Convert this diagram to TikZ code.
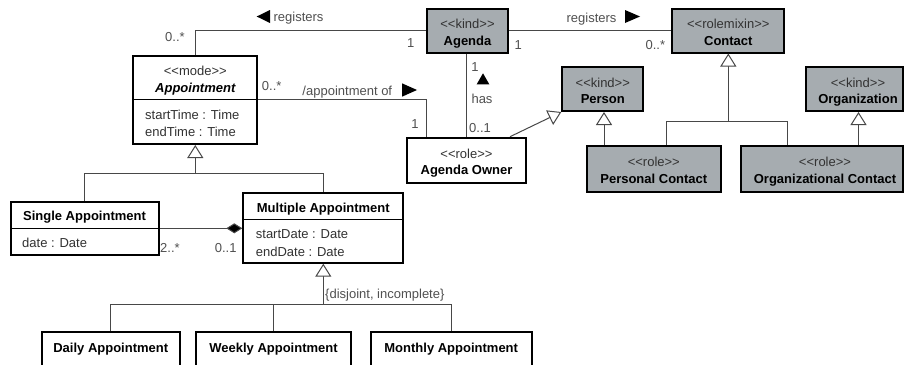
\documentclass[tikz,border=0pt]{standalone}
\usepackage{fontspec}
\setmainfont{Liberation Sans}
\usetikzlibrary{arrows.meta}
\definecolor{boxgray}{RGB}{166,172,176}
\definecolor{connc}{RGB}{72,72,72}
\definecolor{txtc}{RGB}{50,50,50}
\definecolor{lblc}{RGB}{80,80,80}
\newcommand\stL{<\kern0pt<}
\newcommand\stR{>\kern0pt>}
\begin{document}
\begin{tikzpicture}[x=1pt,y=-1pt,
  box/.style={draw=black, line width=2pt, inner sep=0pt, rectangle},
  gbox/.style={box, fill=boxgray},
  wbox/.style={box, fill=white},
  txt/.style={inner sep=0pt, text height=10pt, text depth=1pt, font=\fontsize{13}{15}\selectfont},
  ster/.style={txt, text=txtc},
  nm/.style={txt, font=\fontsize{13}{15}\selectfont\bfseries, text=black},
  attr/.style={txt, text=txtc, anchor=west},
  lbl/.style={txt, text=lblc},
  conn/.style={draw=connc, line width=1pt},
  gen/.style={conn, -{Triangle[length=13pt, width=16pt, fill=white]}},
  comp/.style={conn, -{Diamond[length=16pt, width=10pt, fill=black]}},
  divl/.style={draw=black, line width=1pt},
  dirtri/.style={fill=black}
]
\useasboundingbox (0,0) rectangle (904,364);
\fill[white] (0,0) rectangle (904,364);
\clip (0,0) rectangle (904,364);

% ---- boxes ----
\node[wbox, minimum width=124pt, minimum height=88pt] (app) at (195.3,100) {};
\node[gbox, minimum width=81.6pt, minimum height=43.5pt] (agenda) at (467.5,30.75) {};
\node[gbox, minimum width=112pt, minimum height=43.5pt] (contact) at (728.3,30.75) {};
\node[wbox, minimum width=118.4pt, minimum height=45pt] (owner) at (466.5,160.2) {};
\node[gbox, minimum width=81pt, minimum height=44pt] (person) at (602.8,89) {};
\node[gbox, minimum width=97.3pt, minimum height=44pt] (organization) at (854.35,89) {};
\node[gbox, minimum width=134.3pt, minimum height=45.8pt] (pcontact) at (653.85,168.6) {};
\node[gbox, minimum width=162.3pt, minimum height=45.8pt] (ocontact) at (821.85,168.6) {};
\node[wbox, minimum width=147.5pt, minimum height=52.5pt] (single) at (84.75,228.25) {};
\node[wbox, minimum width=160pt, minimum height=69.4pt] (multiple) at (323.3,228) {};
\node[wbox, minimum width=138.5pt, minimum height=50pt] (daily) at (110.75,357.3) {};
\node[wbox, minimum width=155pt, minimum height=50pt] (weekly) at (273.5,357.3) {};
\node[wbox, minimum width=161pt, minimum height=50pt] (monthly) at (451.2,357.3) {};

% ---- compartment dividers ----
\draw[divl] (app.west |- 0,99) -- (app.east |- 0,99);
\draw[divl] (single.west |- 0,228.3) -- (single.east |- 0,228.3);
\draw[divl] (multiple.west |- 0,219.5) -- (multiple.east |- 0,219.5);

% ---- texts in boxes ----
\node[ster] (t1) at (195.3,70.7) {\stL mode\stR};
\node[nm, font=\fontsize{13}{15}\selectfont\bfseries\itshape] (t2) at (195.3,88.3) {Appointment};
\node[attr] (t3) at (145,115) {startTime : Time};
\node[attr] (t4) at (145,131.7) {endTime : Time};

\node[ster] (t5) at (467.5,24) {\stL kind\stR};
\node[nm] (t6) at (467.5,40.7) {Agenda};
\node[ster] (t7) at (728.3,24) {\stL rolemixin\stR};
\node[nm] (t8) at (728.3,40.7) {Contact};
\node[ster] (t9) at (466.5,154) {\stL role\stR};
\node[nm] (t10) at (466.5,170) {Agenda Owner};
\node[ster] (t11) at (602.8,82.7) {\stL kind\stR};
\node[nm] (t12) at (602.8,99.3) {Person};
\node[ster] (t13) at (858,82.7) {\stL kind\stR};
\node[nm] (t14) at (858,99.3) {Organization};
\node[ster] (t15) at (653.8,162.3) {\stL role\stR};
\node[nm] (t16) at (653.8,179) {Personal Contact};
\node[ster] (t17) at (825,162.3) {\stL role\stR};
\node[nm] (t18) at (825,179) {Organizational Contact};

\node[nm] (t19) at (84.5,216) {Single Appointment};
\node[attr] (t20) at (22,243) {date : Date};
\node[nm] (t21) at (323.3,208.3) {Multiple Appointment};
\node[attr] (t22) at (255.7,234) {startDate : Date};
\node[attr] (t23) at (255.7,251.7) {endDate : Date};
\node[nm] (t24) at (110.75,347.5) {Daily Appointment};
\node[nm] (t25) at (273.5,347.5) {Weekly Appointment};
\node[nm] (t26) at (451.2,347.5) {Monthly Appointment};

% ---- associations ----
\draw[conn] (app.north) |- (agenda.west |- 0,30);
\draw[conn] (agenda.east |- 0,30) -- (contact.west |- 0,30);
\draw[conn] (app.east |- 0,99) -| (owner.north -| 426.7,0);
\draw[conn] (agenda.south -| 466,0) -- (owner.north -| 466,0);
\draw[comp] (single.east |- 0,228.3) -- (multiple.west |- 0,228.3);

% ---- generalizations ----
\coordinate (j1) at (195.3,173);
\draw[conn] (single.north) |- (multiple.north |- j1) -- (multiple.north);
\draw[gen] (j1) -- (app.south);

\coordinate (j2) at (323.3,304);
\draw[conn] (daily.north) |- (monthly.north |- j2) -- (monthly.north);
\draw[conn] (weekly.north) -- (weekly.north |- j2);
\draw[gen] (j2) -- (multiple.south);

\coordinate (j3) at (728.3,121);
\draw[conn] (pcontact.north -| 666,0) -- (666,121) -- (787.5,121) -- (ocontact.north -| 787.5,0);
\draw[gen] (j3) -- (contact.south);

\draw[gen] (pcontact.north -| 604,0) -- (person.south -| 604,0);
\draw[gen] (ocontact.north -| 858.5,0) -- (organization.south -| 858.5,0);
\draw[gen] (owner.north -| 510,0) -- (person.south west);

% ---- association labels ----
\fill[dirtri] (256.7,16.5) -- (270,10) -- (270,23) -- cycle;
\node[lbl] (l1) at (298.5,17) {registers};
\node[lbl] (l2) at (591.5,17.5) {registers};
\fill[dirtri] (625,10) -- (625,23) -- (640,16.5) -- cycle;
\node[lbl] (l3) at (347.3,90.5) {/appointment of};
\fill[dirtri] (402,83.3) -- (402,96.7) -- (417,90) -- cycle;
\fill[dirtri] (476.7,84.3) -- (489.3,84.3) -- (483,73.3) -- cycle;
\node[lbl] (l4) at (482,99.3) {has};
\node[lbl, anchor=west] (l5) at (325,294) {\{disjoint, incomplete\}};

% ---- multiplicities ----
\node[lbl] (m1) at (175,37.3) {0..*};
\node[lbl] (m2) at (410.8,42.7) {1};
\node[lbl] (m3) at (271.7,86) {0..*};
\node[lbl] (m4) at (415,124) {1};
\node[lbl] (m5) at (518.3,45) {1};
\node[lbl] (m6) at (655.3,45) {0..*};
\node[lbl] (m7) at (475,66.7) {1};
\node[lbl] (m8) at (480,127.7) {0..1};
\node[lbl] (m9) at (170,248.3) {2..*};
\node[lbl] (m10) at (225.7,248.3) {0..1};
\end{tikzpicture}
\end{document}
